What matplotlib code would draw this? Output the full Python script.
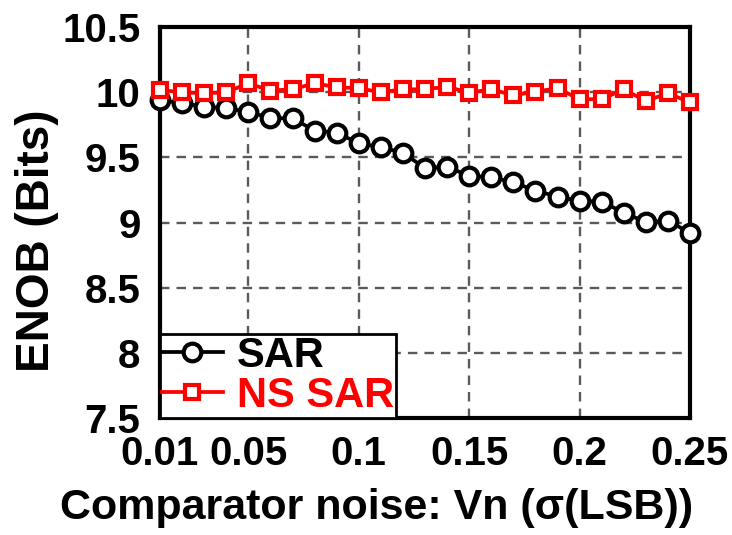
import numpy as np
import matplotlib
matplotlib.use("Agg")
import matplotlib.pyplot as plt

plt.rcParams['font.family'] = ['Liberation Sans', 'DejaVu Sans']
plt.rcParams['font.weight'] = 'bold'

x_vals = [0.01, 0.02, 0.03, 0.04, 0.05, 0.06, 0.07, 0.08, 0.09, 0.10,
          0.11, 0.12, 0.13, 0.14, 0.15, 0.16, 0.17, 0.18, 0.19, 0.20,
          0.21, 0.22, 0.23, 0.24, 0.25]
sar = [9.940, 9.915, 9.889, 9.876, 9.850, 9.800, 9.800, 9.705, 9.689, 9.608,
       9.577, 9.536, 9.416, 9.428, 9.357, 9.347, 9.309, 9.244, 9.199, 9.165,
       9.160, 9.076, 9.002, 9.012, 8.922]
ns_sar = [10.017, 9.999, 9.992, 9.999, 10.068, 10.012, 10.022, 10.068, 10.038, 10.030,
          9.999, 10.022, 10.022, 10.042, 9.996, 10.022, 9.976, 10.004, 10.030, 9.946,
          9.946, 10.022, 9.932, 9.992, 9.922]
x_ticks = [0.01, 0.05, 0.1, 0.15, 0.2, 0.25]
x_tick_labels = ['0.01', '0.05', '0.1', '0.15', '0.2', '0.25']
y_ticks = [7.5, 8, 8.5, 9, 9.5, 10, 10.5]
y_tick_labels = ['7.5', '8', '8.5', '9', '9.5', '10', '10.5']

fig = plt.figure(figsize=(7.32, 5.35), dpi=100)
ax = fig.add_axes([160/732, 1-418/535, 530/732, (418-27)/535])

ax.plot(x_vals, sar, color='black', lw=2.7, marker='o', ms=12.7,
        mfc='white', mec='black', mew=3, label='SAR', clip_on=False, zorder=3)
ax.plot(x_vals, ns_sar, color='#ff0000', lw=2.7, marker='s', ms=10,
        mfc='white', mec='#ff0000', mew=3, label='NS SAR', clip_on=False, zorder=4)

ax.set_xlim(0.01, 0.25)
ax.set_ylim(7.5, 10.5)
ax.set_xticks(x_ticks)
ax.set_xticklabels(x_tick_labels)
ax.set_yticks(y_ticks)
ax.set_yticklabels(y_tick_labels)
ax.tick_params(axis='both', length=0, labelsize=29)
ax.tick_params(axis='x', pad=12)
ax.tick_params(axis='y', pad=14)
for lab in ax.get_xticklabels() + ax.get_yticklabels():
    lab.set_fontweight('bold')

ax.grid(True, color='#5a5a5a', lw=1.7, linestyle=(0, (4, 3)))
ax.set_axisbelow(True)
for sp in ax.spines.values():
    sp.set_linewidth(3)
    sp.set_color('black')

ax.set_xlabel('Comparator noise: Vn (σ(LSB))', fontsize=31, fontweight='bold')
ax.xaxis.set_label_coords((377 - 160) / 530, -(488 - 418) / 391)
ax.set_ylabel('ENOB (Bits)', fontsize=33, fontweight='bold')
ax.yaxis.set_label_coords((59 - 160) / 530, (418 - 241) / 391)

leg = ax.legend(loc='lower left', bbox_to_anchor=(0, 0), borderaxespad=0,
                frameon=True, fancybox=False, borderpad=0.05,
                labelspacing=0.0, handlelength=1.45, handletextpad=0.35,
                prop={'weight': 'bold', 'size': 30})
leg.get_frame().set_edgecolor('black')
leg.get_frame().set_linewidth(2)
leg.get_frame().set_alpha(1)
leg.set_zorder(10)
for txt, c in zip(leg.get_texts(), ['black', '#ff0000']):
    txt.set_color(c)

fig.savefig('out.png', dpi=100, facecolor='white')
